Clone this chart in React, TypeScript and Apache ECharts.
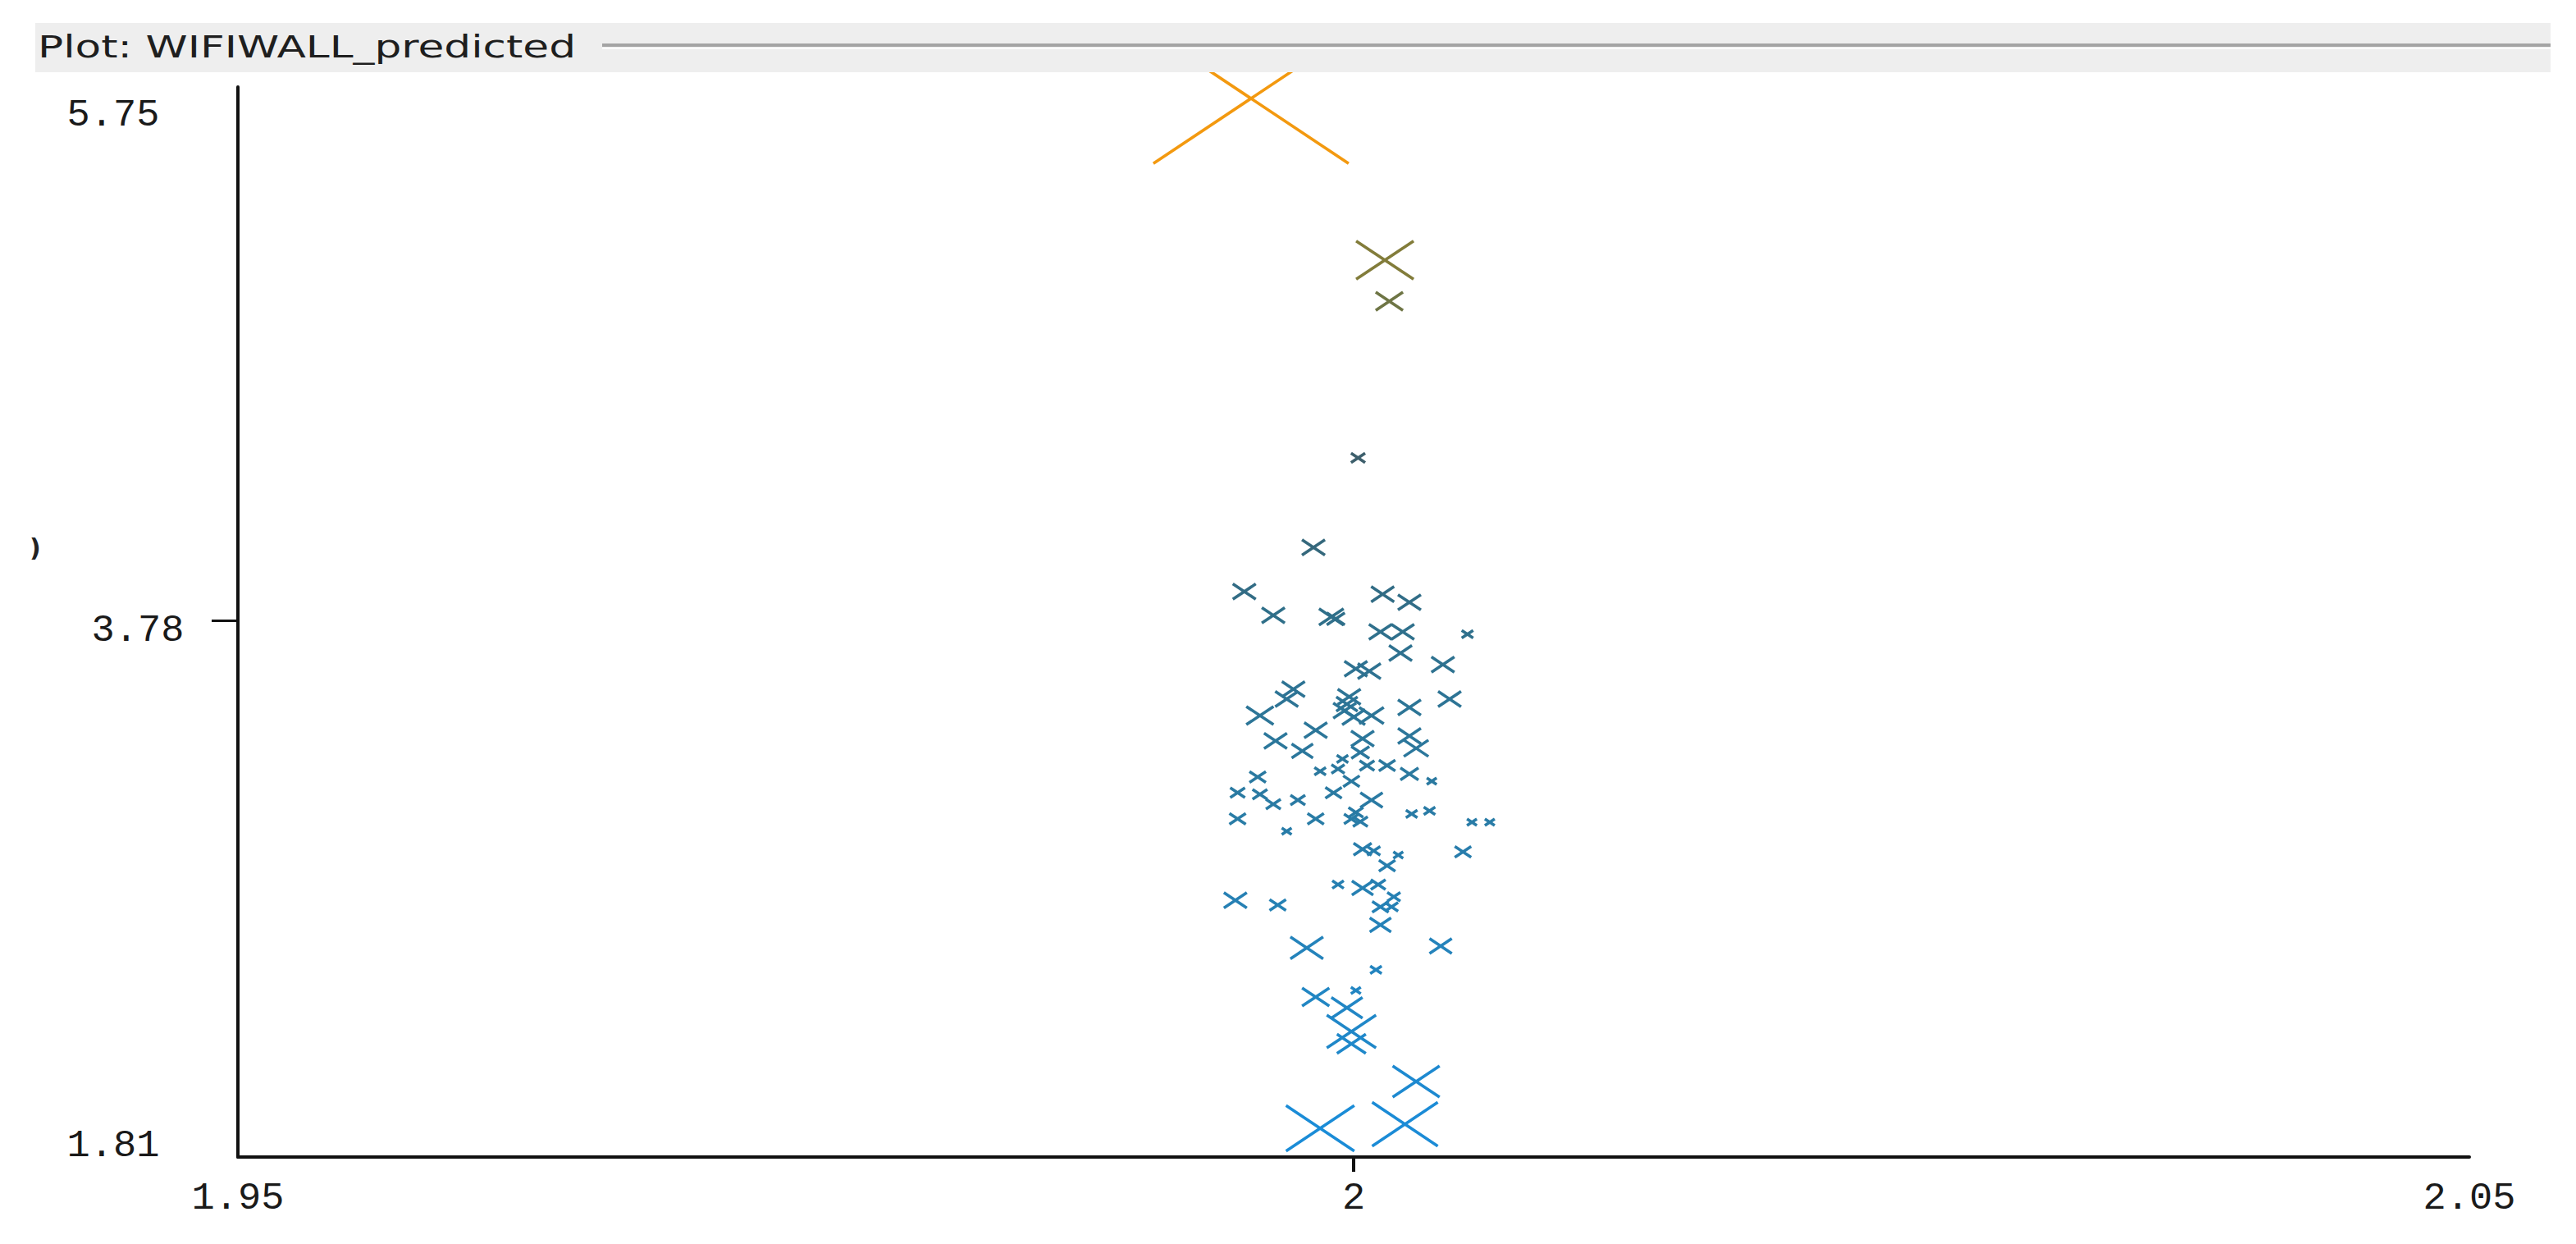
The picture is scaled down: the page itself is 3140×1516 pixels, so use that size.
import React, { useEffect, useRef } from "react";
import * as echarts from "echarts";

// Jittered actual value (x), predicted value (y) and error magnitude (marker size)
const xValues = [
  1.9954, 2.0014, 2.0016, 2.0002, 1.9982, 1.9951, 1.9964, 1.999, 1.9992, 2.0013,
  2.0025, 2.0012, 2.0022, 2.0051, 2.0021, 2.0001, 2.0007, 2.004, 1.9973, 1.9998,
  2.0043, 1.9958, 1.997, 1.9997, 1.9996, 2.0, 2.0008, 2.0025, 1.9983, 1.9965,
  1.9977, 2.0004, 2.0003, 2.0025, 2.0028, 1.9995, 1.9985, 1.9993, 2.0006, 2.0015,
  2.0025, 2.0035, 1.9957, 1.9999, 1.9948, 1.9958, 1.9964, 1.9975, 1.9991, 2.0008,
  2.0001, 1.9999, 1.9948, 1.9983, 2.0003, 2.0026, 2.0034, 2.0053, 2.0061, 1.997,
  2.0004, 2.0009, 2.002, 2.0015, 2.0049, 1.9993, 2.0004, 2.0011, 2.0018, 2.0012,
  2.0017, 1.9947, 1.9966, 2.0012, 1.9979, 2.0039, 2.001, 1.9983, 1.9997, 2.0001,
  1.9999, 1.9999, 2.0028, 1.9985, 2.0023,
];
const yValues = [
  5.775, 5.157, 5.0, 4.401, 4.059, 3.89, 3.799, 3.793, 3.786, 3.88,
  3.849, 3.736, 3.736, 3.727, 3.655, 3.595, 3.586, 3.611, 3.517, 3.488,
  3.479, 3.416, 3.479, 3.46, 3.435, 3.41, 3.416, 3.447, 3.36, 3.319,
  3.281, 3.328, 3.275, 3.338, 3.291, 3.25, 3.203, 3.212, 3.225, 3.225,
  3.193, 3.165, 3.181, 3.165, 3.121, 3.115, 3.077, 3.093, 3.121, 3.093,
  3.046, 3.021, 3.021, 3.021, 3.011, 3.04, 3.052, 3.008, 3.008, 2.974,
  2.905, 2.899, 2.883, 2.842, 2.895, 2.77, 2.757, 2.77, 2.723, 2.685,
  2.685, 2.71, 2.692, 2.616, 2.528, 2.535, 2.444, 2.34, 2.299, 2.365,
  2.208, 2.161, 2.017, 1.838, 1.854,
];
const errValues = [
  5.95, 1.75, 0.83, 0.43, 0.7, 0.7, 0.7, 0.75, 0.55, 0.7,
  0.7, 0.7, 0.7, 0.35, 0.7, 0.7, 0.7, 0.7, 0.7, 0.7,
  0.7, 0.83, 0.7, 0.65, 0.7, 0.7, 0.75, 0.7, 0.7, 0.7,
  0.65, 0.7, 0.55, 0.7, 0.75, 0.35, 0.35, 0.4, 0.45, 0.5,
  0.55, 0.3, 0.5, 0.5, 0.45, 0.45, 0.45, 0.45, 0.5, 0.68,
  0.45, 0.45, 0.5, 0.5, 0.45, 0.35, 0.35, 0.3, 0.3, 0.3,
  0.55, 0.4, 0.3, 0.5, 0.5, 0.35, 0.65, 0.45, 0.4, 0.5,
  0.4, 0.7, 0.5, 0.65, 1.0, 0.68, 0.35, 0.83, 0.95, 0.3,
  1.5, 0.88, 1.43, 2.08, 2.0,
];

const xTickLabels = [1.95, 2, 2.05];
const xTickMarks = [2];
const yTickLabels = [1.81, 3.78, 5.75];
const yTickMarks = [3.78];
const xMin = 1.95;
const xMax = 2.05;
const yMin = 1.7284;
const yMax = 5.819;
const colorLow = 1.81;
const colorHigh = 5.75;
const titleText = "Plot: WIFIWALL_predicted";

const labelFont = "Liberation Mono";

export default function App() {
  const ref = useRef<HTMLDivElement>(null);

  useEffect(() => {
    document.body.style.margin = "0";
    if (!ref.current) return;
    const chart = echarts.init(ref.current, null, { renderer: "svg" });

    const data = xValues.map((x, i) => [x, yValues[i], errValues[i]]);

    const option: any = {
      animation: false,
      backgroundColor: "#ffffff",
      grid: { left: 290, right: 130, top: 106, bottom: 106, containLabel: false },
      xAxis: {
        type: "value",
        min: xMin,
        max: xMax,
        splitLine: { show: false },
        axisLine: { show: true, onZero: false, lineStyle: { color: "#111", width: 4 } },
        axisTick: { show: true, customValues: xTickMarks, length: 18, lineStyle: { color: "#111", width: 4 } },
        axisLabel: {
          customValues: xTickLabels,
          formatter: (v: number) => String(v),
          margin: 27,
          fontFamily: labelFont,
          fontSize: 47,
          color: "#1a1a1a",
        },
      },
      yAxis: {
        type: "value",
        min: yMin,
        max: yMax,
        splitLine: { show: false },
        axisLine: { show: true, onZero: false, lineStyle: { color: "#111", width: 4 } },
        axisTick: { show: true, customValues: yTickMarks, length: 32, lineStyle: { color: "#111", width: 3 } },
        axisLabel: {
          customValues: yTickLabels,
          formatter: (v: number) => (v === 3.78 ? `{b|${v}}` : `{a|${v}}`),
          margin: 122,
          align: "center",
          fontFamily: labelFont,
          fontSize: 47,
          color: "#1a1a1a",
          rich: {
            a: { fontFamily: labelFont, fontSize: 47, color: "#1a1a1a", padding: [26, 60, 0, 0] },
            b: { fontFamily: labelFont, fontSize: 47, color: "#1a1a1a", padding: [26, 0, 0, 0] },
          },
        },
      },
      visualMap: {
        type: "continuous",
        show: false,
        dimension: 1,
        seriesIndex: 0,
        min: colorLow,
        max: colorHigh,
        inRange: {
          color: ["#1a8cd8", "#2384be", "#2a7aa2", "#2f6f8a", "#3e5e6a", "#76793f", "#f3990f"],
        },
      },
      series: [
        {
          type: "custom",
          coordinateSystem: "cartesian2d",
          encode: { x: 0, y: 1 },
          data,
          renderItem: (params: any, api: any) => {
            const c = api.coord([api.value(0), api.value(1)]);
            const e = api.value(2);
            const hw = e * 20;
            const hh = hw / 1.5;
            const color = api.visual("color");
            return {
              type: "group",
              children: [
                {
                  type: "line",
                  shape: { x1: c[0] - hw, y1: c[1] + hh, x2: c[0] + hw, y2: c[1] - hh },
                  style: { stroke: color, lineWidth: 3.6 },
                },
                {
                  type: "line",
                  shape: { x1: c[0] - hw, y1: c[1] - hh, x2: c[0] + hw, y2: c[1] + hh },
                  style: { stroke: color, lineWidth: 3.6 },
                },
              ],
            };
          },
        },
      ],
      graphic: {
        elements: [
          {
            type: "rect",
            z: 100,
            shape: { x: 43, y: 28, width: 3066, height: 60 },
            style: { fill: "#eeeeee" },
          },
          {
            type: "line",
            z: 101,
            shape: { x1: 734, y1: 55, x2: 3109, y2: 55 },
            style: { stroke: "#a4a4a4", lineWidth: 4 },
          },
          {
            type: "line",
            z: 101,
            shape: { x1: 734, y1: 59, x2: 3109, y2: 59 },
            style: { stroke: "#fbfbfb", lineWidth: 2 },
          },
          {
            type: "text",
            z: 102,
            x: 46,
            y: 57,
            scaleX: 1.4,
            style: {
              text: titleText,
              font: '37px "DejaVu Sans"',
              fill: "#1e1e1e",
              textVerticalAlign: "middle",
              verticalAlign: "middle",
            },
          },
          {
            type: "text",
            z: 102,
            x: 36,
            y: 667,
            style: {
              text: ")",
              font: 'bold 30px "DejaVu Sans"',
              fill: "#222",
              verticalAlign: "middle",
            },
          },
        ],
      },
    };

    chart.setOption(option);
    return () => chart.dispose();
  }, []);

  return <div ref={ref} style={{ width: 3140, height: 1516 }} />;
}
